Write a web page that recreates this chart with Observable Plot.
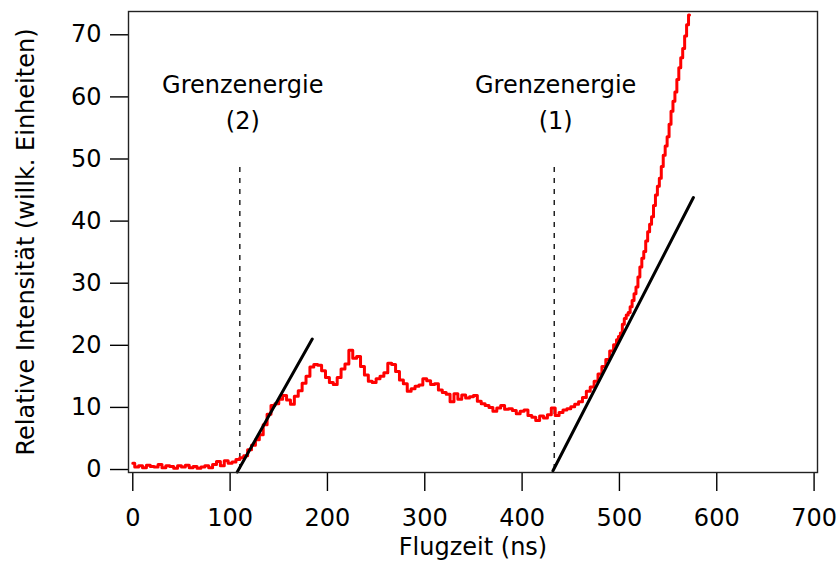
<!DOCTYPE html>
<html>
<head>
<meta charset="utf-8">
<script src="https://cdn.jsdelivr.net/npm/d3@7"></script>
<script src="https://cdn.jsdelivr.net/npm/@observablehq/plot@0.6"></script>
<style>
  html, body { margin: 0; padding: 0; background: #fff; }
  #chart { width: 840px; height: 567px; }
</style>
</head>
<body>
<div id="chart"></div>
<script>
// Flight time (ns) sampling points and measured relative intensity
const flugzeit = [
  0,4,8,12,16,20,24,28,32,36,40,44,48,52,56,60,64,68,72,76,80,84,88,92,96,100,
  104,108,112,116,120,124,128,132,136,140,144,148,152,156,160,164,168,172,176,180,
  184,188,192,196,200,204,208,212,216,220,224,228,232,236,240,244,248,252,256,260,
  264,268,272,276,280,284,288,292,296,300,304,308,312,316,320,324,328,332,336,340,
  344,348,352,356,360,364,368,372,376,380,384,388,392,396,400,404,408,412,416,420,
  424,428,432,436,440,444,448,452,456,460,464,468,472,476,480,484,488,492,
  496,498,500,502,504,506,508,510,512,514,516,518,520,522,524,526,528,530,532,534,
  536,538,540,542,544,546,548,550,552,554,556,558,560,562,564,566,568,570,572
];
const intensitaet = [
  1.0,0.4,0.6,0.3,0.7,0.5,0.4,0.8,0.3,0.6,0.5,0.2,0.6,0.4,0.7,0.3,0.5,0.2,0.4,0.6,0.3,0.8,1.3,0.6,1.4,1.0,
  1.2,1.6,1.9,2.2,3.2,3.9,4.8,5.6,7.2,8.9,10.3,10.6,11.3,11.9,11.2,10.5,11.8,12.7,13.9,15.0,
  16.5,16.9,16.8,15.9,14.8,14.0,13.7,14.8,16.2,17.0,19.2,17.9,18.2,16.6,15.2,14.2,14.0,14.6,15.0,15.6,
  17.1,16.9,15.8,14.4,13.8,12.6,13.0,13.4,13.6,14.6,14.3,13.7,13.8,12.8,12.4,12.1,10.9,12.2,11.3,12.0,
  11.5,11.7,11.9,11.0,10.6,10.3,10.0,9.4,9.9,10.3,9.7,9.8,9.5,9.0,9.4,9.6,8.7,8.4,7.9,8.6,
  8.3,8.8,9.9,8.7,9.2,9.6,9.8,10.1,10.5,10.9,11.6,12.6,13.3,14.2,15.4,16.6,17.7,19.1,
  20.1,20.9,21.4,22.0,23.4,24.3,24.9,25.3,26.2,27.2,28.3,29.4,31.0,32.6,34.0,35.1,36.8,38.3,39.5,40.7,
  42.5,44.2,45.6,46.9,48.8,50.6,52.1,53.6,55.6,57.7,59.3,60.8,62.8,64.7,66.3,67.8,69.8,71.6,73.2
];

// Tangent (threshold) lines: [x, y] end points
const tangente2 = [[107.3, -0.4], [184.4, 21.0]];
const tangente1 = [[431.7, -0.2], [576.0, 43.8]];

// Threshold energies (dashed markers)
const grenzX = [110, 433];
const grenzTop = 49;

// Annotations
const annX = [113, 434.5];
const annLine1 = ["Grenzenergie", "Grenzenergie"];
const annLine2 = ["(2)", "(1)"];
const annY1 = 61.8;
const annY2 = 56.0;

// Axes
const xTicks = [0, 100, 200, 300, 400, 500, 600, 700];
const yTicks = [0, 10, 20, 30, 40, 50, 60, 70];
const xLabel = "Flugzeit (ns)";
const yLabel = "Relative Intensität (willk. Einheiten)";

const signal = flugzeit.map((t, i) => ({t, v: intensitaet[i]}));
const tangents = [
  ...tangente2.map(([x, y]) => ({x, y, id: "2"})),
  ...tangente1.map(([x, y]) => ({x, y, id: "1"}))
];
const ann = annX.map((x, i) => ({x, l1: annLine1[i], l2: annLine2[i]}));

const chart = Plot.plot({
  width: 840,
  height: 567,
  marginLeft: 128,
  marginRight: 23,
  marginTop: 11,
  marginBottom: 95,
  x: {domain: [-4.4, 703.5]},
  y: {domain: [-0.48, 73.75]},
  style: {fontFamily: "DejaVu Sans", fontSize: "24px", color: "black", background: "white"},
  marks: [
    Plot.axisX({ticks: xTicks, tickSize: 19, tickPadding: 17, label: null, strokeWidth: 1.4, fill: "black", stroke: "black"}),
    Plot.axisY({ticks: yTicks, tickSize: 18, tickPadding: 9, label: null, strokeWidth: 1.4, fill: "black", stroke: "black"}),
    Plot.ruleX(grenzX, {x: d => d, y1: 0, y2: grenzTop, stroke: "black", strokeWidth: 1.3, strokeDasharray: "5,6"}),
    Plot.line(signal, {x: "t", y: "v", curve: "step", stroke: "#ff0000", strokeWidth: 3}),
    Plot.line(tangents, {x: "x", y: "y", z: "id", stroke: "black", strokeWidth: 3}),
    Plot.text(ann, {x: "x", y: annY1, text: "l1", fill: "black", fontSize: 24}),
    Plot.text(ann, {x: "x", y: annY2, text: "l2", fill: "black", fontSize: 24}),
    Plot.text([xLabel], {frameAnchor: "bottom", dy: 82, text: d => d, fill: "black", fontSize: 24}),
    Plot.text([yLabel], {frameAnchor: "left", textAnchor: "middle", dx: -102, rotate: -90, text: d => d, fill: "black", fontSize: 24}),
    Plot.frame({stroke: "#222", strokeWidth: 1.4})
  ]
});
document.getElementById("chart").appendChild(chart);
</script>
</body>
</html>
